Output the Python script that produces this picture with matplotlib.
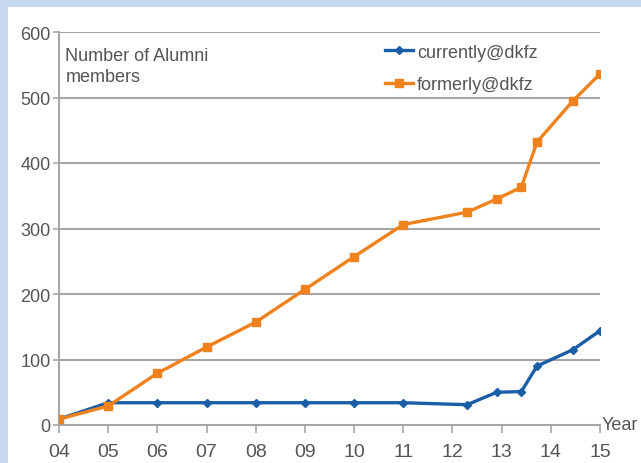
import matplotlib
matplotlib.use("Agg")
import matplotlib.pyplot as plt
from matplotlib.patches import Rectangle

# Data
years_current = [4, 5, 6, 7, 8, 9, 10, 11, 12.3, 12.9, 13.4, 13.72, 14.45, 15]
currently = [9, 34, 34, 34, 34, 34, 34, 34, 31, 50, 51, 90, 115, 144]
years_former = [4, 5, 6, 7, 8, 9, 10, 11, 12.3, 12.9, 13.4, 13.72, 14.45, 15]
formerly = [9, 29, 79, 119, 157, 207, 257, 306, 325, 345, 363, 432, 495, 536]
xtick_vals = [4, 5, 6, 7, 8, 9, 10, 11, 12, 13, 14, 15]
xtick_labels = ["04", "05", "06", "07", "08", "09", "10", "11", "12", "13", "14", "15"]
ytick_vals = [0, 100, 200, 300, 400, 500, 600]

plt.rcParams['font.family'] = ['Liberation Sans', 'DejaVu Sans']
W, H = 641, 464
fig = plt.figure(figsize=(W / 100, H / 100), dpi=100)
fig.patch.set_facecolor('#c6d9f0')
fig.patches.append(Rectangle((8 / W, 0), 1, 1 - 8 / H, transform=fig.transFigure,
                             facecolor='white', edgecolor='none', zorder=-5))

ax = fig.add_axes([59 / W, (H - 426) / H, (600 - 59) / W, (426 - 33) / H])
ax.set_zorder(5)
ax.set_facecolor('none')

blue = '#1b5ea8'
orange = '#f0821e'
ax.plot(years_current, currently, color=blue, lw=2.4, marker='D', ms=4.5,
        label='currently@dkfz', zorder=3)
ax.plot(years_former, formerly, color=orange, lw=2.4, marker='s', ms=5.5,
        label='formerly@dkfz', zorder=3)

ax.set_xlim(4, 15)
ax.set_ylim(0, 600)
ax.set_xticks(xtick_vals)
ax.set_xticklabels(xtick_labels)
ax.set_yticks(ytick_vals)

gray = '#a6a6a6'
for y in ytick_vals[1:]:
    ax.axhline(y, color=gray, lw=1.5, zorder=1)
for s in ['top', 'right']:
    ax.spines[s].set_visible(False)
for s in ['left', 'bottom']:
    ax.spines[s].set_color(gray)
    ax.spines[s].set_linewidth(1.5)
ax.tick_params(axis='x', direction='out', length=6, width=1.2, color=gray,
               labelsize=14, labelcolor='#555555', pad=7)
ax.tick_params(axis='y', direction='out', length=4, width=1.2, color=gray,
               labelsize=13, labelcolor='#555555', pad=2)

ax.text(1.003, 0.0, 'Year', transform=ax.transAxes, fontsize=13, color='#555555',
        ha='left', va='center')
ax.text(0.012, 0.962, 'Number of Alumni\nmembers', transform=ax.transAxes,
        fontsize=13, color='#555555', ha='left', va='top', linespacing=1.3)

leg = ax.legend(loc='upper left', bbox_to_anchor=(0.58, 1.0), frameon=False,
                fontsize=13, handlelength=1.6, handletextpad=0.2,
                labelspacing=0.85, borderaxespad=0.25)
for t in leg.get_texts():
    t.set_color('#555555')

fig.savefig('out.png', dpi=100, facecolor=fig.get_facecolor())
